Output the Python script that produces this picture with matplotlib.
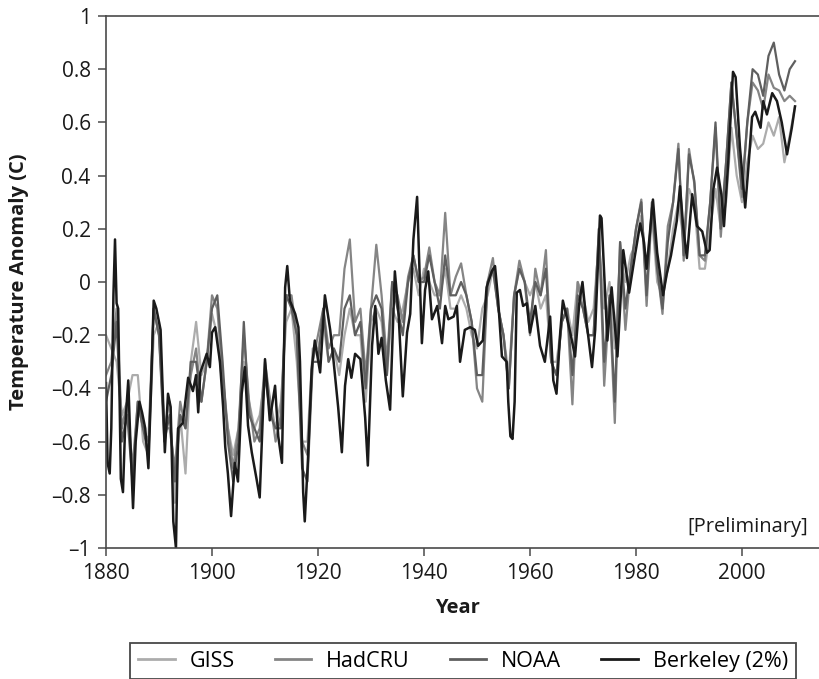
import matplotlib
matplotlib.use("Agg")
import matplotlib.pyplot as plt

plt.rcParams['font.family'] = ['Open Sans', 'DejaVu Sans']

# ---------------- data ----------------
berk_years = [1880.0, 1880.3, 1880.7, 1881.0, 1881.4, 1881.7, 1882.0, 1882.3, 1882.8, 1883.2,
              1883.6, 1884.2, 1884.6, 1885.1, 1885.6, 1886.3, 1886.8, 1887.4, 1888.0, 1888.5,
              1889.0, 1889.5, 1889.9, 1890.3, 1891.1, 1891.7, 1892.2, 1892.7, 1893.2, 1893.6,
              1894.5, 1895.5, 1896.4, 1897.0, 1897.4, 1897.8, 1898.5, 1899.0, 1899.6, 1900.0,
              1900.6, 1901.5, 1902.1, 1902.5, 1903.0, 1903.6, 1904.3, 1904.9, 1905.6, 1906.2,
              1906.8, 1907.5, 1908.4, 1909.0, 1909.5, 1910.0, 1910.9, 1911.9, 1912.5, 1913.2,
              1913.8, 1914.2, 1914.7, 1915.7, 1916.3, 1916.6, 1917.2, 1917.5, 1918.1, 1918.8,
              1919.4, 1920.4, 1921.3, 1922.3, 1922.9, 1923.8, 1924.5, 1925.1, 1925.7, 1926.3,
              1927.0, 1928.0, 1928.9, 1929.4, 1930.2, 1930.8, 1931.4, 1932.0, 1932.8, 1933.6,
              1934.5, 1935.2, 1936.0, 1936.8, 1937.4, 1938.0, 1938.7, 1939.1, 1939.6, 1940.2,
              1940.8, 1941.5, 1942.5, 1943.4, 1944.0, 1944.6, 1945.6, 1946.2, 1946.8, 1947.7,
              1948.7, 1949.6, 1950.2, 1951.1, 1951.8, 1952.8, 1953.4, 1954.0, 1954.7, 1955.6,
              1955.9, 1956.3, 1956.7, 1957.1, 1957.5, 1958.1, 1958.7, 1959.4, 1960.0, 1961.0,
              1961.9, 1962.8, 1963.8, 1964.4, 1965.0, 1965.7, 1966.2, 1966.9, 1967.6, 1968.5,
              1969.3, 1969.9, 1970.6, 1971.7, 1972.3, 1973.2, 1973.5, 1974.2, 1974.6, 1975.4,
              1976.5, 1977.6, 1978.7, 1979.8, 1980.8, 1981.5, 1982.0, 1983.2, 1984.0, 1985.1,
              1985.8, 1986.6, 1987.7, 1988.3, 1988.9, 1989.6, 1990.6, 1991.5, 1992.5, 1993.4,
              1993.9, 1994.6, 1995.3, 1996.1, 1996.6, 1997.4, 1998.3, 1998.8, 1999.6, 2000.6,
              2001.2, 2001.9, 2002.5, 2003.5, 2004.0, 2004.7, 2005.7, 2006.6, 2007.5, 2008.5,
              2009.4, 2010.0]
berk_vals = [-0.38, -0.68, -0.72, -0.55, -0.05, 0.16, -0.08, -0.10, -0.74, -0.79,
             -0.55, -0.37, -0.60, -0.85, -0.60, -0.45, -0.49, -0.55, -0.70, -0.40,
             -0.07, -0.10, -0.14, -0.18, -0.64, -0.42, -0.47, -0.90, -1.00, -0.55,
             -0.53, -0.36, -0.41, -0.35, -0.49, -0.34, -0.30, -0.27, -0.32, -0.19,
             -0.17, -0.30, -0.47, -0.62, -0.72, -0.88, -0.68, -0.75, -0.42, -0.32,
             -0.54, -0.64, -0.74, -0.81, -0.55, -0.29, -0.52, -0.39, -0.58, -0.68,
             -0.02, 0.06, -0.07, -0.12, -0.17, -0.30, -0.79, -0.90, -0.67, -0.33,
             -0.22, -0.34, -0.05, -0.18, -0.29, -0.47, -0.64, -0.39, -0.29, -0.36,
             -0.27, -0.29, -0.51, -0.69, -0.24, -0.09, -0.27, -0.21, -0.37, -0.48,
             0.04, -0.12, -0.43, -0.19, -0.12, 0.16, 0.32, 0.08, -0.23, -0.03,
             0.04, -0.14, -0.09, -0.23, -0.09, -0.14, -0.13, -0.09, -0.30, -0.18,
             -0.17, -0.18, -0.24, -0.22, -0.02, 0.04, 0.06, -0.07, -0.28, -0.30,
             -0.45, -0.58, -0.59, -0.45, -0.04, -0.03, -0.09, -0.08, -0.19, -0.09,
             -0.24, -0.30, -0.13, -0.37, -0.42, -0.19, -0.07, -0.13, -0.19, -0.28,
             -0.08, 0.00, -0.14, -0.32, -0.18, 0.25, 0.24, -0.05, -0.22, -0.02,
             -0.28, 0.12, -0.04, 0.10, 0.22, 0.15, 0.05, 0.31, 0.11, -0.05,
             0.03, 0.10, 0.23, 0.36, 0.21, 0.09, 0.33, 0.21, 0.19, 0.11,
             0.12, 0.35, 0.43, 0.33, 0.21, 0.45, 0.79, 0.77, 0.51, 0.28,
             0.43, 0.62, 0.64, 0.58, 0.68, 0.63, 0.71, 0.68, 0.60, 0.48,
             0.58, 0.66]

years = list(range(1880, 2011))

giss_vals = [-0.20, -0.25, -0.30, -0.50, -0.45, -0.35, -0.35, -0.60, -0.65, -0.20,
             -0.15, -0.55, -0.45, -0.83, -0.50, -0.72, -0.30, -0.15, -0.35, -0.30,
             -0.12, -0.20, -0.40, -0.55, -0.65, -0.55, -0.30, -0.45, -0.55, -0.50,
             -0.35, -0.45, -0.55, -0.45, -0.15, -0.10, -0.30, -0.60, -0.60, -0.25,
             -0.25, -0.15, -0.30, -0.25, -0.35, -0.20, -0.10, -0.20, -0.20, -0.45,
             -0.15, -0.10, -0.15, -0.35, -0.10, -0.15, -0.10, 0.00, 0.05, -0.05,
             0.05, 0.00, -0.05, -0.05, 0.05, -0.10, -0.10, -0.05, -0.10, -0.20,
             -0.25, -0.10, -0.05, 0.05, -0.10, -0.20, -0.35, -0.05, 0.05, 0.00,
             -0.05, 0.00, -0.10, -0.05, -0.30, -0.30, -0.15, -0.10, -0.20, 0.00,
             -0.05, -0.15, -0.10, 0.15, -0.10, 0.00, -0.25, 0.10, 0.00, 0.10,
             0.15, 0.25, 0.05, 0.25, 0.00, -0.05, 0.05, 0.20, 0.30, 0.15,
             0.35, 0.30, 0.05, 0.05, 0.20, 0.35, 0.20, 0.30, 0.58, 0.40,
             0.30, 0.45, 0.55, 0.50, 0.52, 0.60, 0.55, 0.62, 0.45, 0.55,
             0.66]

hadcru_vals = [-0.35, -0.30, -0.10, -0.55, -0.45, -0.70, -0.45, -0.55, -0.60, -0.10,
               -0.20, -0.55, -0.55, -0.70, -0.45, -0.55, -0.35, -0.25, -0.45, -0.30,
               -0.05, -0.10, -0.35, -0.55, -0.70, -0.55, -0.20, -0.45, -0.60, -0.55,
               -0.30, -0.45, -0.60, -0.50, -0.05, -0.05, -0.20, -0.60, -0.65, -0.30,
               -0.20, -0.10, -0.25, -0.20, -0.20, 0.05, 0.16, -0.15, -0.10, -0.35,
               -0.10, 0.14, -0.05, -0.30, 0.00, -0.05, -0.15, 0.02, 0.10, 0.00,
               0.02, 0.13, 0.00, -0.05, 0.26, -0.05, 0.02, 0.07, -0.05, -0.15,
               -0.40, -0.45, 0.00, 0.09, -0.10, -0.20, -0.40, -0.05, 0.08, 0.00,
               -0.20, 0.05, -0.05, 0.12, -0.30, -0.35, -0.15, -0.10, -0.46, 0.00,
               -0.10, -0.20, -0.20, 0.20, -0.39, -0.06, -0.53, 0.15, -0.18, 0.05,
               0.20, 0.31, -0.09, 0.28, 0.05, -0.12, 0.21, 0.30, 0.52, 0.08,
               0.50, 0.37, 0.10, 0.08, 0.30, 0.58, 0.17, 0.45, 0.75, 0.55,
               0.32, 0.60, 0.75, 0.72, 0.65, 0.78, 0.73, 0.72, 0.68, 0.70,
               0.68]

noaa_vals = [-0.45, -0.35, -0.15, -0.60, -0.50, -0.75, -0.45, -0.55, -0.65, -0.10,
             -0.20, -0.60, -0.50, -0.75, -0.50, -0.55, -0.30, -0.30, -0.45, -0.30,
             -0.10, -0.05, -0.30, -0.60, -0.75, -0.60, -0.15, -0.50, -0.55, -0.60,
             -0.35, -0.50, -0.55, -0.55, -0.05, -0.10, -0.20, -0.70, -0.75, -0.30,
             -0.30, -0.10, -0.30, -0.25, -0.30, -0.10, -0.05, -0.20, -0.15, -0.40,
             -0.10, -0.05, -0.10, -0.35, 0.00, -0.10, -0.20, 0.00, 0.10, 0.00,
             0.00, 0.10, 0.00, -0.10, 0.10, -0.05, -0.05, 0.00, -0.05, -0.15,
             -0.35, -0.35, 0.00, 0.05, -0.10, -0.20, -0.40, -0.05, 0.05, 0.00,
             -0.15, 0.00, -0.05, 0.05, -0.30, -0.35, -0.15, -0.10, -0.35, -0.05,
             -0.10, -0.20, -0.20, 0.20, -0.30, -0.05, -0.45, 0.15, -0.10, 0.05,
             0.20, 0.30, -0.05, 0.30, 0.05, -0.10, 0.15, 0.30, 0.50, 0.10,
             0.48, 0.38, 0.10, 0.10, 0.30, 0.60, 0.20, 0.45, 0.75, 0.55,
             0.35, 0.60, 0.80, 0.78, 0.70, 0.85, 0.90, 0.78, 0.72, 0.80,
             0.83]

series_names = ["GISS", "HadCRU", "NOAA", "Berkeley (2%)"]
series_colors = ["#acacac", "#858585", "#5f5f5f", "#1a1a1a"]

y_ticks = [-1, -0.8, -0.6, -0.4, -0.2, 0, 0.2, 0.4, 0.6, 0.8, 1]
y_tick_labels = ["\u20131", "\u20130.8", "\u20130.6", "\u20130.4", "\u20130.2", "0",
                 "0.2", "0.4", "0.6", "0.8", "1"]
x_ticks = [1880, 1900, 1920, 1940, 1960, 1980, 2000]

# ---------------- figure ----------------
W, H = 819, 679
fig = plt.figure(figsize=(W / 100, H / 100), dpi=100)
ax = fig.add_axes([106 / W, 1 - 548 / H, 1 - 106 / W, (548 - 16) / H])

ax.plot(years, giss_vals, color=series_colors[0], lw=1.6, label=series_names[0])
ax.plot(years, hadcru_vals, color=series_colors[1], lw=1.6, label=series_names[1])
ax.plot(years, noaa_vals, color=series_colors[2], lw=1.6, label=series_names[2])
ax.plot(berk_years, berk_vals, color=series_colors[3], lw=1.8, label=series_names[3])

ax.set_xlim(1880, 1880 + (W - 106) / 5.3)
ax.set_ylim(-1, 1)
ax.set_xticks(x_ticks)
ax.set_yticks(y_ticks)
ax.set_yticklabels(y_tick_labels)

axis_col = "#4a4a4a"
for side in ["left", "bottom", "top"]:
    ax.spines[side].set_color(axis_col)
    ax.spines[side].set_linewidth(1.2)
ax.spines["right"].set_visible(False)
ax.tick_params(axis="both", direction="out", length=6, width=1.1, color=axis_col,
               labelsize=15, labelcolor="#1a1a1a", pad=5)
ax.tick_params(top=False, right=False)

ax.set_xlabel("Year", fontsize=14.5, fontweight="bold", color="#1a1a1a")
ax.set_ylabel("Temperature Anomaly (C)", fontsize=14.5, fontweight="bold",
              color="#1a1a1a")
ax.xaxis.set_label_coords((457 - 106) / 713, (548 - 598) / 532)
ax.yaxis.label.set_verticalalignment("center")
ax.yaxis.set_label_coords((19 - 106) / 713, 0.5)

ax.text(0.985, 0.04, "[Preliminary]", transform=ax.transAxes, ha="right", va="center",
        fontsize=14.5, color="#1a1a1a")

handles, labels = ax.get_legend_handles_labels()
leg = fig.legend(handles, labels, loc="upper center", ncol=4,
                 bbox_to_anchor=(463 / W, 1 - 643 / H), frameon=True, fancybox=False,
                 fontsize=15.5, handlelength=1.7, handletextpad=0.7, columnspacing=1.85,
                 borderpad=0.35, edgecolor="#1a1a1a", borderaxespad=0)
leg.get_frame().set_linewidth(1.3)
for line in leg.get_lines():
    line.set_linewidth(2)

fig.savefig("out.png", dpi=100)
